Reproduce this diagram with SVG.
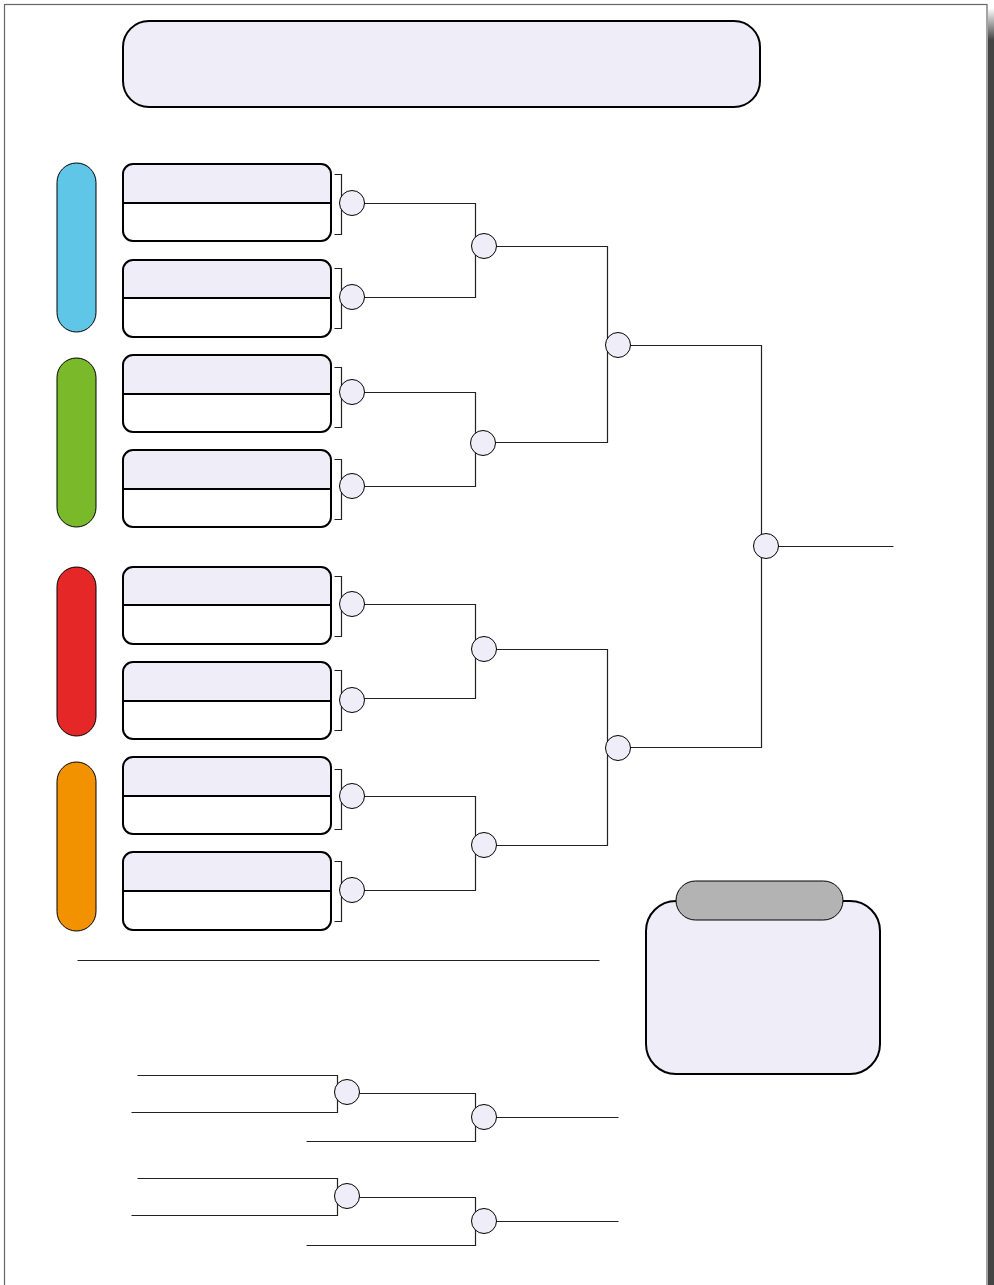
<svg xmlns="http://www.w3.org/2000/svg" width="994" height="1285" viewBox="0 0 994 1285">
<defs>
<linearGradient id="sh" x1="0" y1="0" x2="0" y2="1">
<stop offset="0" stop-color="#ffffff"/>
<stop offset="1" stop-color="#444444"/>
</linearGradient>
<style>
.pg{fill:#fff;stroke:#666;stroke-width:1.2}
.hd{fill:#efeef8;stroke:#000;stroke-width:2}
.bx{fill:none;stroke:#000;stroke-width:2}
.bxt{fill:#efeef8}
.pill{stroke:#000;stroke-width:1}
.c{fill:#efeef8;stroke:#000;stroke-width:1}
.ln{fill:none;stroke:#222;stroke-width:1.2}
</style>
</defs>
<rect width="994" height="1285" fill="#fff"/>
<rect x="4.5" y="4.5" width="982.5" height="1290" class="pg"/>
<rect x="988" y="40" width="6" height="1245" fill="#444"/>
<rect x="988" y="8" width="6" height="32" fill="url(#sh)"/>

<g id="title"><rect x="123" y="21" width="637" height="86" rx="26" class="hd"/></g>

<g id="pill-blue"><rect x="57" y="163" width="39" height="169" rx="19.5" class="pill" fill="#5fc6e8"/></g>
<g id="pill-green"><rect x="57" y="358" width="39" height="169" rx="19.5" class="pill" fill="#7ab929"/></g>
<g id="pill-red"><rect x="57" y="567" width="39" height="169" rx="19.5" class="pill" fill="#e52728"/></g>
<g id="pill-orange"><rect x="57" y="762" width="39" height="169" rx="19.5" class="pill" fill="#f39200"/></g>

<g id="box1"><path d="M123,203 V174 a10,10 0 0 1 10,-10 H321 a10,10 0 0 1 10,10 V203 Z" class="bxt"/><rect x="123" y="164" width="208" height="77" rx="10" class="bx"/><line x1="123" y1="203" x2="331" y2="203" stroke="#000" stroke-width="2"/></g>
<g id="box2"><path d="M123,298 V270 a10,10 0 0 1 10,-10 H321 a10,10 0 0 1 10,10 V298 Z" class="bxt"/><rect x="123" y="260" width="208" height="77" rx="10" class="bx"/><line x1="123" y1="298" x2="331" y2="298" stroke="#000" stroke-width="2"/></g>
<g id="box3"><path d="M123,394 V365 a10,10 0 0 1 10,-10 H321 a10,10 0 0 1 10,10 V394 Z" class="bxt"/><rect x="123" y="355" width="208" height="77" rx="10" class="bx"/><line x1="123" y1="394" x2="331" y2="394" stroke="#000" stroke-width="2"/></g>
<g id="box4"><path d="M123,489 V460 a10,10 0 0 1 10,-10 H321 a10,10 0 0 1 10,10 V489 Z" class="bxt"/><rect x="123" y="450" width="208" height="77" rx="10" class="bx"/><line x1="123" y1="489" x2="331" y2="489" stroke="#000" stroke-width="2"/></g>
<g id="box5"><path d="M123,605 V577 a10,10 0 0 1 10,-10 H321 a10,10 0 0 1 10,10 V605 Z" class="bxt"/><rect x="123" y="567" width="208" height="77" rx="10" class="bx"/><line x1="123" y1="605" x2="331" y2="605" stroke="#000" stroke-width="2"/></g>
<g id="box6"><path d="M123,701 V672 a10,10 0 0 1 10,-10 H321 a10,10 0 0 1 10,10 V701 Z" class="bxt"/><rect x="123" y="662" width="208" height="77" rx="10" class="bx"/><line x1="123" y1="701" x2="331" y2="701" stroke="#000" stroke-width="2"/></g>
<g id="box7"><path d="M123,796 V767 a10,10 0 0 1 10,-10 H321 a10,10 0 0 1 10,10 V796 Z" class="bxt"/><rect x="123" y="757" width="208" height="77" rx="10" class="bx"/><line x1="123" y1="796" x2="331" y2="796" stroke="#000" stroke-width="2"/></g>
<g id="box8"><path d="M123,891 V862 a10,10 0 0 1 10,-10 H321 a10,10 0 0 1 10,10 V891 Z" class="bxt"/><rect x="123" y="852" width="208" height="78" rx="10" class="bx"/><line x1="123" y1="891" x2="331" y2="891" stroke="#000" stroke-width="2"/></g>

<g id="connectors" transform="translate(0.5,0.5)">
<path class="ln" d="M334,174 H341 V234 H334"/>
<path class="ln" d="M334,268 H341 V328 H334"/>
<path class="ln" d="M334,367 H341 V427 H334"/>
<path class="ln" d="M334,459 H341 V519 H334"/>
<path class="ln" d="M334,576 H341 V636 H334"/>
<path class="ln" d="M334,670 H341 V730 H334"/>
<path class="ln" d="M334,769 H341 V829 H334"/>
<path class="ln" d="M334,861 H341 V921 H334"/>
<path class="ln" d="M352,203 H475 V297 H352"/>
<path class="ln" d="M352,392 H475 V486 H352"/>
<path class="ln" d="M352,604 H475 V698 H352"/>
<path class="ln" d="M352,796 H475 V890 H352"/>
<path class="ln" d="M484,246 H607 V442 H484"/>
<path class="ln" d="M484,649 H607 V845 H484"/>
<path class="ln" d="M618,345 H761 V747 H618"/>
<path class="ln" d="M766,546 H893"/>
<line x1="77" y1="960" x2="599" y2="960" stroke="#222" stroke-width="1.2"/>
<path class="ln" d="M137,1075 H337 V1112 H131"/>
<path class="ln" d="M347,1093 H475 V1141 H306"/>
<path class="ln" d="M484,1117 H618"/>
<path class="ln" d="M137,1178 H337 V1215 H131"/>
<path class="ln" d="M347,1197 H475 V1245 H306"/>
<path class="ln" d="M484,1221 H618"/>
</g>

<g id="circles">
<circle cx="352" cy="203" r="12.5" class="c"/>
<circle cx="352" cy="297" r="12.5" class="c"/>
<circle cx="352" cy="392" r="12.5" class="c"/>
<circle cx="352" cy="486" r="12.5" class="c"/>
<circle cx="352" cy="604" r="12.5" class="c"/>
<circle cx="352" cy="700" r="12.5" class="c"/>
<circle cx="352" cy="796" r="12.5" class="c"/>
<circle cx="352" cy="890" r="12.5" class="c"/>
<circle cx="484" cy="246" r="12.5" class="c"/>
<circle cx="483" cy="443" r="12.5" class="c"/>
<circle cx="484" cy="649" r="12.5" class="c"/>
<circle cx="484" cy="845" r="12.5" class="c"/>
<circle cx="618" cy="345" r="12.5" class="c"/>
<circle cx="618" cy="748" r="12.5" class="c"/>
<circle cx="766" cy="546" r="12.5" class="c"/>
<circle cx="347" cy="1092" r="12.5" class="c"/>
<circle cx="484" cy="1117" r="12.5" class="c"/>
<circle cx="347" cy="1196" r="12.5" class="c"/>
<circle cx="484" cy="1221" r="12.5" class="c"/>
</g>

<g id="legend">
<rect x="646" y="901" width="234" height="173" rx="30" class="hd"/>
<rect x="676" y="881" width="167" height="39" rx="19.5" fill="#b3b3b3" stroke="#000" stroke-width="1"/>
</g>
</svg>
